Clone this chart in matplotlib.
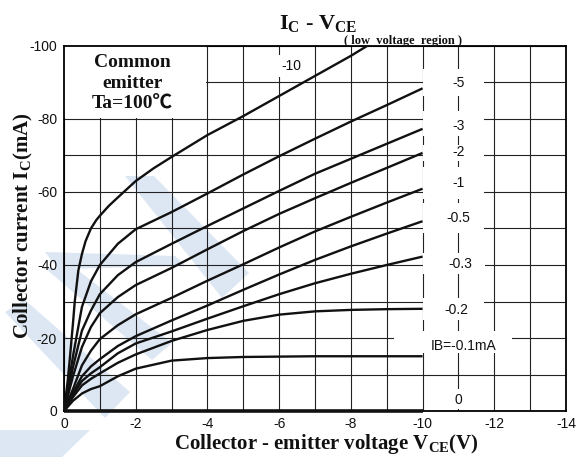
import numpy as np
import matplotlib
matplotlib.use("Agg")
import matplotlib.pyplot as plt
from matplotlib.patches import Rectangle, Polygon

plt.rcParams['font.family'] = ['Liberation Sans', 'DejaVu Sans']
plt.rcParams['mathtext.fontset'] = 'custom'
plt.rcParams['mathtext.rm'] = 'Liberation Serif:bold'
plt.rcParams['mathtext.it'] = 'Liberation Serif:bold'
plt.rcParams['mathtext.bf'] = 'Liberation Serif:bold'

# collector-emitter voltage (V) and collector current (mA)
v_pts = [0, -0.25, -0.5, -0.75, -1, -1.5, -2, -3, -4, -5, -6, -7, -8, -9, -10]
ib_0p1 = [0, -2.8, -4.8, -6.0, -6.8, -9.5, -11.6, -13.8, -14.5, -14.8, -14.9, -15, -15, -15, -15]
ib_0p2 = [0, -3.8, -7.0, -8.8, -10.3, -13.2, -15.5, -19.2, -22.2, -24.7, -26.4, -27.3, -27.7, -27.9, -28]
ib_0p3 = [0, -4.5, -8.2, -10.3, -12.0, -15.8, -18.5, -21.8, -25.3, -28.7, -32, -35, -37.6, -40, -42.3]
ib_0p5 = [0, -5.0, -9.5, -12.2, -14.2, -17.8, -20.5, -24.8, -28.9, -33.2, -37.4, -41.4, -45.1, -48.6, -52]
ib_1 = [0, -6.0, -12.5, -16.5, -19.7, -23.5, -26.5, -31.0, -35.7, -40.2, -44.8, -49.2, -53.2, -57.1, -60.9]
ib_2 = [0, -9.5, -17.5, -23.0, -26.8, -31.2, -34.5, -39.2, -44.3, -49.3, -54.0, -58.3, -62.5, -66.6, -70.7]
ib_3 = [0, -12.0, -22.0, -27.5, -32.0, -37.2, -40.8, -45.8, -50.7, -55.5, -60.3, -65, -69.1, -73.2, -77.3]
ib_5 = [0, -15.0, -28.5, -35.5, -40.0, -45.8, -49.8, -54.5, -59.6, -64.8, -69.8, -74.6, -79.3, -83.8, -88.4]
ib_0 = [0, 0]
v_ib0 = [0, -10]

v_ib10 = [0, -0.1, -0.15, -0.25, -0.3, -0.4, -0.5, -0.6, -0.75, -0.9, -1, -1.25,
          -1.5, -2, -2.5, -3, -4, -5, -6, -7, -8, -8.45]
ib_10 = [0, -8, -13, -24, -30, -38.5, -43, -46.5, -50, -52.3, -53.5, -56.2,
         -58.5, -63, -66.5, -69.6, -75.6, -80.8, -86.3, -91.8, -97.3, -100]

curve_labels = ['-10', '-5', '-3', '-2', '-1', '-0.5', '-0.3', '-0.2', 'IB=-0.1mA', '0']
label_v = [-6.35, -11.0, -11.0, -11.0, -11.0, -11.0, -11.05, -10.95, -11.15, -11.0]
label_i = [-94.5, -89.8, -78.0, -71.0, -62.4, -52.8, -40.4, -27.8, -17.9, -3.0]

x_ticks = [0, -2, -4, -6, -8, -10, -12, -14]
x_tick_labels = ['0', '-2', '-4', '-6', '-8', '-10', '-12', '-14']
y_ticks = [0, -20, -40, -60, -80, -100]
y_tick_labels = ['0', '-20', '-40', '-60', '-80', '-100']

fig = plt.figure(figsize=(5.82, 4.57), dpi=100)
W, H = 582, 457

# faint watermark behind the chart
wm = [
    [(125, 176), (154, 176), (249, 273), (222, 298)],
    [(45, 252), (175, 256), (186, 266), (58, 269)],
    [(45, 268), (75, 268), (172, 343), (152, 360)],
    [(5, 312), (25, 300), (130, 392), (105, 418)],
    [(0, 430), (90, 430), (62, 457), (0, 457)],
]
for poly in wm:
    pts = [(x / W, 1 - y / H) for x, y in poly]
    fig.patches.append(Polygon(pts, closed=True, transform=fig.transFigure,
                               facecolor='#dde7f4', edgecolor='none', zorder=-1))

ax = fig.add_axes([64 / W, 46 / H, 502 / W, 365 / H])
ax.set_facecolor('none')
ax.set_xlim(0, -14)
ax.set_ylim(0, -100)

ax.set_xticks(np.arange(0, -15, -1), minor=True)
ax.set_yticks(np.arange(0, -101, -10), minor=True)
ax.set_xticks(x_ticks)
ax.set_xticklabels(x_tick_labels)
ax.set_yticks(y_ticks)
ax.set_yticklabels(y_tick_labels)
ax.tick_params(which='both', length=0, labelsize=10, colors='#111111')
ax.tick_params(axis='x', pad=4)
ax.tick_params(axis='y', pad=5)
ax.set_axisbelow(True)
ax.grid(which='both', color='#222222', lw=0.8)
for s in ax.spines.values():
    s.set_linewidth(1.3)

# blank area for the condition text
ax.add_patch(Rectangle((-3.96, -100), 3.96, 19.6, facecolor='white',
                       edgecolor='none', zorder=1))

# gaps in the grid around the curve labels
gaps = [
    (-10.0, -11.7, -93.7, -86.3),
    (-10.0, -11.7, -82.1, -75.3),
    (-10.0, -11.7, -72.8, -68.4),
    (-10.0, -11.7, -66.8, -58.0),
    (-10.0, -11.7, -56.9, -48.9),
    (-10.0, -11.75, -43.4, -37.4),
    (-10.0, -11.7, -31.0, -25.0),
    (-9.2, -12.5, -22.0, -15.8),
    (-10.7, -11.3, -6.0, -0.6),
]
for v0, v1, i0, i1 in gaps:
    ax.add_patch(Rectangle((v1, i0), v0 - v1, i1 - i0, facecolor='white',
                           edgecolor='none', zorder=1))

for ib in [ib_0p1, ib_0p2, ib_0p3, ib_0p5, ib_1, ib_2, ib_3, ib_5]:
    ax.plot(v_pts, ib, color='#111111', lw=1.7, zorder=3, solid_capstyle='butt')
ax.plot(v_ib10, ib_10, color='#111111', lw=1.7, zorder=3, solid_capstyle='butt')
ax.plot(v_ib0, ib_0, color='#111111', lw=2.6, zorder=4, clip_on=False,
        solid_capstyle='butt')

for k, (t, v, i) in enumerate(zip(curve_labels, label_v, label_i)):
    bb = None
    if k == 0:
        bb = dict(boxstyle='square,pad=0.3', facecolor='white', edgecolor='none')
    ax.text(v, i, t, ha='center', va='center', fontsize=10, color='#111111',
            zorder=5, bbox=bb)

ax.text(-1.9, -89.7, 'Common\nemitter\nTa=100℃', ha='center', va='center',
        fontsize=14, fontweight='bold', linespacing=1.3, color='#111111',
        family=['Liberation Serif', 'Noto Sans CJK SC'], zorder=5)

ax.set_xlabel(r'Collector - emitter voltage V$_{\mathrm{CE}}$(V)',
              family='Liberation Serif', fontweight='bold', fontsize=15,
              color='#111111')
ax.set_ylabel(r'Collector current I$_{\mathrm{C}}$(mA)',
              family='Liberation Serif', fontweight='bold', fontsize=15,
              color='#111111')
ax.xaxis.label.set_va('center')
ax.yaxis.label.set_va('center')
ax.xaxis.set_label_coords(0.522, -0.09)
ax.yaxis.set_label_coords(-0.08, 0.508)

fig.text(318 / W, 1 - 29 / H, r'I$_{\mathrm{C}}$ - V$_{\mathrm{CE}}$', ha='center',
         va='baseline', fontsize=16, family='Liberation Serif', fontweight='bold',
         color='#111111')
fig.text(403 / W, 1 - 41 / H, '( low  voltage  region )', ha='center', va='center',
         fontsize=9, family='Liberation Serif', fontweight='bold', color='#111111')

fig.savefig('out.png', dpi=100)
